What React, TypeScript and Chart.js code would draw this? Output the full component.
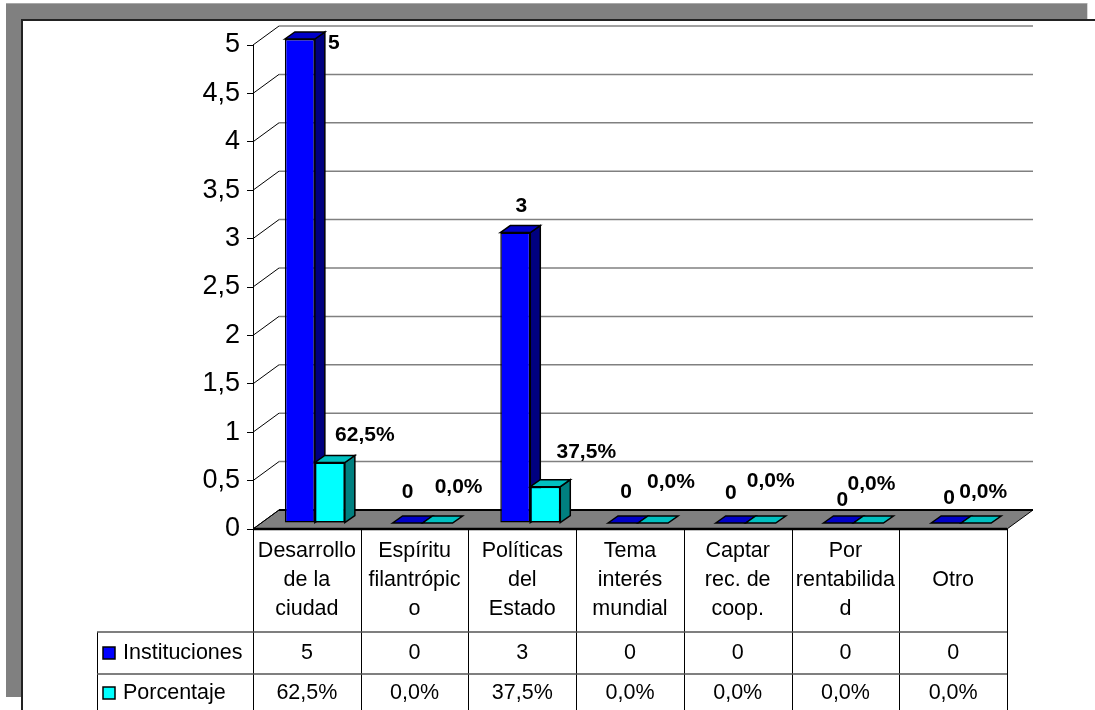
import React, { useEffect, useRef } from 'react';
import { Chart, registerables } from 'chart.js';

Chart.register(...registerables);

// ---------- data ----------
const categories: string[][] = [
  ['Desarrollo', 'de la', 'ciudad'],
  ['Espíritu', 'filantrópic', 'o'],
  ['Políticas', 'del', 'Estado'],
  ['Tema', 'interés', 'mundial'],
  ['Captar', 'rec. de', 'coop.'],
  ['Por', 'rentabilida', 'd'],
  ['Otro'],
];
const seriesNames = ['Instituciones', 'Porcentaje'];
const instituciones = [5, 0, 3, 0, 0, 0, 0];
const porcentaje = [0.625, 0, 0.375, 0, 0, 0, 0];
const yMin = 0;
const yMax = 5;
const yStep = 0.5;

// label nudges (relative to each bar's front-top centre), as in the original
const instLabelNudge = [[34, 4], [0, -31], [6, -26], [3, -31], [0, -30], [4, -23], [3, -25]];
const porcLabelNudge = [[35, -27], [21, -36], [41, -34], [18, -41], [10, -42], [3, -39], [7, -31]];

// ---------- style ----------
const FONT = "'Liberation Sans', Arial, sans-serif";
const BAR_DX = 8, BAR_DY = -6;      // bars stand a bit behind the front plane
const DEPTH_X = 10, DEPTH_Y = -7;   // bar depth
const WALL_X = 26, WALL_Y = -19;    // wall depth
const faces = [
  { front: '#0000FF', side: '#000080', top: '#0000C8' },
  { front: '#00FFFF', side: '#008080', top: '#00C0C0' },
];

const fmtInst = (v: number) => String(v);
const fmtPorc = (v: number) => (v * 100).toFixed(1).replace('.', ',') + '%';

function poly(ctx: CanvasRenderingContext2D, pts: number[][], fill: string, stroke = '#000', lw = 1.5) {
  ctx.beginPath();
  ctx.moveTo(pts[0][0], pts[0][1]);
  for (let i = 1; i < pts.length; i++) ctx.lineTo(pts[i][0], pts[i][1]);
  ctx.closePath();
  ctx.fillStyle = fill;
  ctx.fill();
  ctx.lineWidth = lw;
  ctx.strokeStyle = stroke;
  ctx.lineJoin = 'miter';
  ctx.stroke();
}

function drawFaces(ctx: CanvasRenderingContext2D, el: any, c: { side: string; top: string }) {
  const { x, y, base, width } = el.getProps(['x', 'y', 'base', 'width'], true);
  const l = x - width / 2;
  const r = x + width / 2;
  if (base - y > 0.5) {
    poly(ctx, [[r, y], [r + DEPTH_X, y + DEPTH_Y], [r + DEPTH_X, base + DEPTH_Y], [r, base]], c.side);
  }
  poly(ctx, [[l, y], [l + DEPTH_X, y + DEPTH_Y], [r + DEPTH_X, y + DEPTH_Y], [r, y]], c.top);
}

const excel3d = {
  id: 'excel3d',
  beforeDraw(chart: any) {
    const ctx: CanvasRenderingContext2D = chart.ctx;
    ctx.save();
    ctx.fillStyle = '#fff';
    ctx.fillRect(0, 0, chart.width, chart.height);
    ctx.fillStyle = '#808080';
    ctx.fillRect(6, 3, 1081, 17);
    ctx.fillRect(6, 3, 16, 694);
    ctx.fillStyle = '#a8a8a8';
    ctx.fillRect(6, 3, 1081, 1);
    ctx.fillStyle = '#d8d8d8';
    ctx.fillRect(1087, 3, 1, 17);
    ctx.fillStyle = '#222';
    ctx.fillRect(22, 19, 1073, 2);
    ctx.fillRect(21, 19, 2, 691);
    ctx.restore();
  },
  beforeDatasetsDraw(chart: any) {
    const ctx: CanvasRenderingContext2D = chart.ctx;
    const a = chart.chartArea;
    const ys = chart.scales.y;
    ctx.save();
    // floor
    poly(ctx, [[a.left, a.bottom], [a.right, a.bottom], [a.right + WALL_X, a.bottom + WALL_Y], [a.left + WALL_X, a.bottom + WALL_Y]], '#808080', '#000', 1);
    ctx.lineWidth = 2;
    ctx.strokeStyle = '#000';
    ctx.beginPath();
    ctx.moveTo(a.left + WALL_X, a.bottom + WALL_Y);
    ctx.lineTo(a.right + WALL_X, a.bottom + WALL_Y);
    ctx.stroke();
    // back-wall gridlines and left-wall diagonals
    ys.ticks.forEach((t: any) => {
      const py = ys.getPixelForValue(t.value);
      ctx.lineWidth = 1;
      ctx.strokeStyle = '#000';
      ctx.beginPath();
      ctx.moveTo(a.left, py);
      ctx.lineTo(a.left + WALL_X, py + WALL_Y);
      ctx.stroke();
      if (t.value > 0) {
        ctx.lineWidth = 1.5;
        ctx.strokeStyle = '#808080';
        ctx.beginPath();
        ctx.moveTo(a.left + WALL_X, py + WALL_Y);
        ctx.lineTo(a.right + WALL_X, py + WALL_Y);
        ctx.stroke();
      }
    });
    ctx.restore();
    ctx.save();
    ctx.translate(BAR_DX, BAR_DY);
  },
  afterDatasetsDraw(chart: any) {
    const ctx: CanvasRenderingContext2D = chart.ctx;
    const m0 = chart.getDatasetMeta(0);
    const m1 = chart.getDatasetMeta(1);
    m0.data.forEach((el: any) => drawFaces(ctx, el, faces[0]));
    m1.data.forEach((el: any) => {
      el.draw(ctx, chart.chartArea);
      drawFaces(ctx, el, faces[1]);
    });
    ctx.restore();
  },
  afterDraw(chart: any) {
    const ctx: CanvasRenderingContext2D = chart.ctx;
    const a = chart.chartArea;
    ctx.save();
    // data labels
    ctx.font = `bold 21px ${FONT}`;
    ctx.fillStyle = '#000';
    ctx.textAlign = 'center';
    ctx.textBaseline = 'middle';
    const metas = [chart.getDatasetMeta(0), chart.getDatasetMeta(1)];
    const nudges = [instLabelNudge, porcLabelNudge];
    const fmts = [fmtInst, fmtPorc];
    const values = [instituciones, porcentaje];
    metas.forEach((meta: any, di: number) => {
      meta.data.forEach((el: any, j: number) => {
        const { x, y } = el.getProps(['x', 'y'], true);
        const n = nudges[di][j];
        ctx.fillText(fmts[di](values[di][j]), x + BAR_DX + n[0], y + BAR_DY + n[1]);
      });
    });

    // data table
    const n = categories.length;
    const colW = (a.right - a.left) / n;
    const headTop = a.bottom;
    const headBot = 632;
    const row1Bot = 674;
    const row2Bot = 716;
    const legLeft = 97;

    ctx.strokeStyle = '#000';
    ctx.lineWidth = 1;
    for (let k = 0; k <= n; k++) {
      const xx = Math.round(a.left + k * colW) + 0.5;
      ctx.beginPath();
      ctx.moveTo(xx, headTop);
      ctx.lineTo(xx, chart.height);
      ctx.stroke();
    }
    ctx.beginPath();
    ctx.moveTo(legLeft + 0.5, headBot);
    ctx.lineTo(legLeft + 0.5, chart.height);
    ctx.stroke();
    ctx.strokeStyle = '#555';
    ctx.lineWidth = 1.5;
    [headBot, row1Bot].forEach((yy) => {
      ctx.beginPath();
      ctx.moveTo(legLeft, yy);
      ctx.lineTo(a.right, yy);
      ctx.stroke();
    });
    // front edge of floor / top of table
    ctx.strokeStyle = '#000';
    ctx.lineWidth = 2.5;
    ctx.beginPath();
    ctx.moveTo(a.left, a.bottom);
    ctx.lineTo(a.right, a.bottom);
    ctx.stroke();

    ctx.font = `21.5px ${FONT}`;
    ctx.fillStyle = '#000';
    ctx.textAlign = 'center';
    ctx.textBaseline = 'middle';
    const lh = 29;
    const hc = (headTop + headBot) / 2;
    const xs = chart.scales.x;
    categories.forEach((lines, j) => {
      const cx = xs.getPixelForValue(j);
      lines.forEach((ln, k) => {
        ctx.fillText(ln, cx, hc + (k - (lines.length - 1) / 2) * lh);
      });
      ctx.fillText(fmtInst(instituciones[j]), cx, (headBot + row1Bot) / 2);
      ctx.fillText(fmtPorc(porcentaje[j]), cx, (row1Bot + row2Bot) / 2 - 2);
    });
    // legend keys
    const rowsC = [(headBot + row1Bot) / 2, (row1Bot + row2Bot) / 2 - 2];
    seriesNames.forEach((name, i) => {
      const cy = rowsC[i];
      ctx.fillStyle = faces[i].front;
      ctx.fillRect(103, cy - 6, 12, 12);
      ctx.strokeStyle = '#000';
      ctx.lineWidth = 1.5;
      ctx.strokeRect(103, cy - 6, 12, 12);
      ctx.fillStyle = '#000';
      ctx.textAlign = 'left';
      ctx.fillText(name, 123, cy);
    });
    ctx.restore();
  },
};

export default function App() {
  const ref = useRef<HTMLCanvasElement>(null);
  useEffect(() => {
    const chart = new Chart(ref.current as HTMLCanvasElement, {
      type: 'bar',
      data: {
        labels: categories.map((c) => c.join(' ')),
        datasets: [
          {
            label: seriesNames[0],
            data: instituciones,
            backgroundColor: faces[0].front,
            borderColor: '#000',
            borderWidth: 1.5,
            borderSkipped: false,
            categoryPercentage: 0.557,
            barPercentage: 1,
            clip: false,
          } as any,
          {
            label: seriesNames[1],
            data: porcentaje,
            backgroundColor: faces[1].front,
            borderColor: '#000',
            borderWidth: 1.5,
            borderSkipped: false,
            categoryPercentage: 0.557,
            barPercentage: 1,
            clip: false,
          } as any,
        ],
      },
      options: {
        responsive: false,
        animation: false,
        devicePixelRatio: 1,
        layout: { padding: { left: 0, top: 45, right: 88, bottom: 181 } },
        plugins: {
          legend: { display: false },
          tooltip: { enabled: false },
          title: { display: false },
        },
        scales: {
          x: { display: false, offset: true },
          y: {
            min: yMin,
            max: yMax,
            ticks: {
              stepSize: yStep,
              color: '#000',
              padding: 7,
              font: { family: FONT, size: 27 },
              callback: (v: any) => String(v).replace('.', ','),
            },
            grid: { drawOnChartArea: false, drawTicks: true, tickLength: 6, color: '#000', lineWidth: 1 },
            border: { display: true, color: '#000', width: 1 },
            afterFit: (s: any) => {
              s.width = 253;
            },
          },
        },
      },
      plugins: [excel3d as any],
    });
    return () => chart.destroy();
  }, []);
  return (
    <div style={{ position: 'fixed', left: 0, top: 0, width: 1095, height: 710, background: '#fff' }}>
      <canvas ref={ref} width={1095} height={710} style={{ display: 'block', width: 1095, height: 710 }} />
    </div>
  );
}
